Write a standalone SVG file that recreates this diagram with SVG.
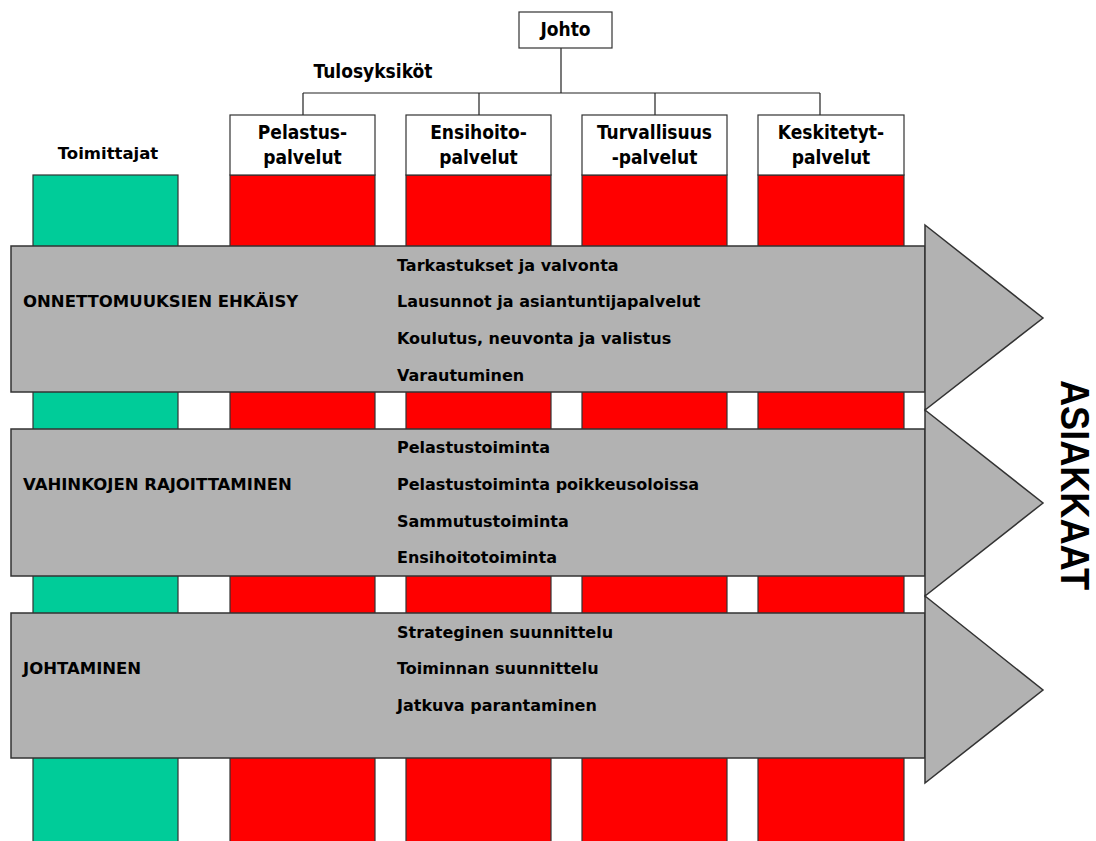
<svg xmlns="http://www.w3.org/2000/svg" width="1096" height="841" viewBox="0 0 1096 841">
<style>
.col{stroke:#333;stroke-width:1.2}
.g{fill:#00cc99}
.r{fill:#ff0000}
.hb{fill:#fff;stroke:#333;stroke-width:1.2}
.band{fill:#b2b2b2;stroke:#333;stroke-width:1.5}
.ln{stroke:#222;stroke-width:1.2;fill:none}
.ht{font-family:"DejaVu Sans Condensed","DejaVu Sans",sans-serif;font-weight:bold;font-size:19px;fill:#000;text-anchor:middle}
.bt{font-family:"DejaVu Sans",sans-serif;font-weight:bold;font-size:16.5px;fill:#000}
.it{font-family:"DejaVu Sans",sans-serif;font-weight:bold;font-size:16px;fill:#000}
.big{font-family:"Liberation Sans",Arial,sans-serif;font-weight:bold;font-size:40px;fill:#000}
</style>
<rect width="1096" height="841" fill="#fff"/>

<g id="connectors">
<path class="ln" d="M561,48 V93 M303,93 H820 M303,93 V115 M479,93 V115 M655,93 V115 M820,93 V115"/>
</g>

<g id="johto">
<rect class="hb" x="519" y="12" width="93" height="36"/>
<text class="ht" x="565.5" y="36">Johto</text>
</g>
<g id="tulosyksikot"><text class="ht" x="373" y="78">Tulosyksiköt</text></g>
<g id="toimittajat"><text class="bt" x="108" y="159" text-anchor="middle">Toimittajat</text></g>

<g id="columns">
<rect class="col g" x="33" y="175" width="145" height="680"/>
<rect class="col r" x="230" y="175" width="145" height="680"/>
<rect class="col r" x="406" y="175" width="145" height="680"/>
<rect class="col r" x="582" y="175" width="145" height="680"/>
<rect class="col r" x="758" y="175" width="146" height="680"/>
</g>

<g id="unit-pelastus">
<rect class="hb" x="230" y="115" width="145" height="60"/>
<text class="ht" x="302.5" y="139">Pelastus-</text>
<text class="ht" x="302.5" y="164">palvelut</text>
</g>
<g id="unit-ensihoito">
<rect class="hb" x="406" y="115" width="145" height="60"/>
<text class="ht" x="478.5" y="139">Ensihoito-</text>
<text class="ht" x="478.5" y="164">palvelut</text>
</g>
<g id="unit-turvallisuus">
<rect class="hb" x="582" y="115" width="145" height="60"/>
<text class="ht" x="654.5" y="139">Turvallisuus</text>
<text class="ht" x="654.5" y="164">-palvelut</text>
</g>
<g id="unit-keskitetyt">
<rect class="hb" x="758" y="115" width="146" height="60"/>
<text class="ht" x="831" y="139">Keskitetyt-</text>
<text class="ht" x="831" y="164">palvelut</text>
</g>

<g id="band-ehkaisy">
<rect class="band" x="11" y="246" width="914" height="146"/>
<polygon class="band" points="925,225 1043,318 925,410"/>
<text class="bt" x="23" y="307">ONNETTOMUUKSIEN EHKÄISY</text>
<text class="it" x="397" y="271">Tarkastukset ja valvonta</text>
<text class="it" x="397" y="307">Lausunnot ja asiantuntijapalvelut</text>
<text class="it" x="397" y="344">Koulutus, neuvonta ja valistus</text>
<text class="it" x="397" y="381">Varautuminen</text>
</g>

<g id="band-rajoittaminen">
<rect class="band" x="11" y="429" width="914" height="147"/>
<polygon class="band" points="925,410 1043,503 925,596"/>
<text class="bt" x="23" y="490">VAHINKOJEN RAJOITTAMINEN</text>
<text class="it" x="397" y="453">Pelastustoiminta</text>
<text class="it" x="397" y="490">Pelastustoiminta poikkeusoloissa</text>
<text class="it" x="397" y="527">Sammutustoiminta</text>
<text class="it" x="397" y="563">Ensihoitotoiminta</text>
</g>

<g id="band-johtaminen">
<rect class="band" x="11" y="613" width="914" height="145"/>
<polygon class="band" points="925,596 1043,690 925,783"/>
<text class="bt" x="23" y="674">JOHTAMINEN</text>
<text class="it" x="397" y="638">Strateginen suunnittelu</text>
<text class="it" x="397" y="674">Toiminnan suunnittelu</text>
<text class="it" x="397" y="711">Jatkuva parantaminen</text>
</g>

<g id="asiakkaat">
<text class="big" transform="translate(1061,380) rotate(90)" x="0" y="0" textLength="210" lengthAdjust="spacingAndGlyphs">ASIAKKAAT</text>
</g>
</svg>
